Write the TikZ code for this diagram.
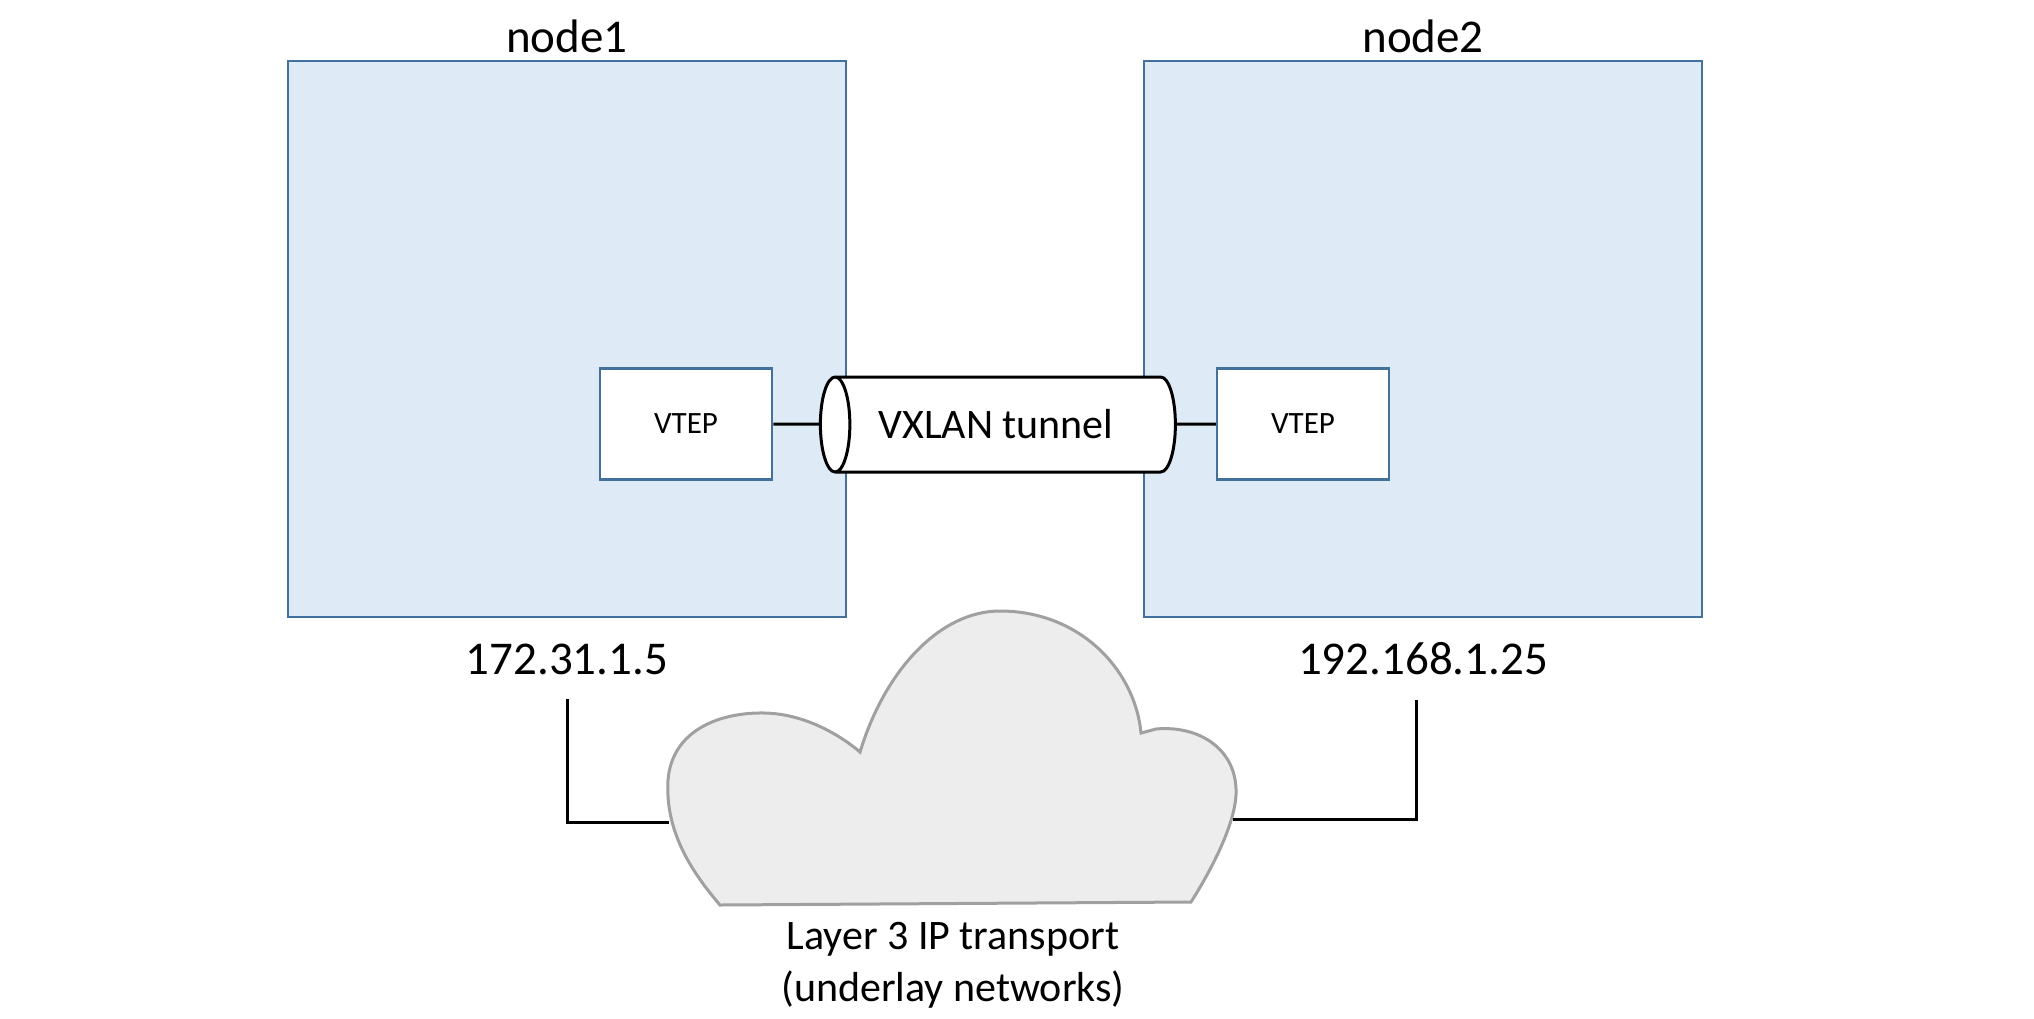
\documentclass[tikz,border=0pt]{standalone}
\usepackage{fontspec}
\setmainfont{Carlito}
\usetikzlibrary{shapes.geometric}
\definecolor{hostfill}{HTML}{DEEBF7}
\definecolor{hostline}{HTML}{41719C}
\definecolor{cloudfill}{HTML}{EDEDED}
\definecolor{cloudline}{HTML}{A0A0A0}
\begin{document}
\begin{tikzpicture}[x=0.5pt, y=-0.5pt,
    host/.style={draw=hostline, fill=hostfill, line width=1.25pt, minimum width=279pt, minimum height=278pt},
    vtepbox/.style={draw=hostline, fill=white, line width=1.25pt, minimum width=86pt, minimum height=55.5pt, font=\fontsize{15.5}{18}\selectfont},
    label/.style={font=\fontsize{23.5}{28}\selectfont, inner sep=0pt},
    link/.style={line width=1.5pt}]
    \useasboundingbox (0,0) rectangle (2034,1018);
    \foreach \i/\x/\vx/\ip in {1/567/686/172.31.1.5, 2/1423/1303/192.168.1.25} {
        \node[host] (box\i) at (\x,339) {};
        \node[label] (name\i) at (\x,36) {node\i};
        \node[vtepbox] (vtep\i) at (\vx,424) {VTEP};
        \node[label] (ip\i) at (\x,659) {\ip};
    }
    \node[cylinder, shape border rotate=180, aspect=1, draw, fill=white, line width=1.5pt,
        minimum width=47.5pt, minimum height=177.5pt, inner sep=0pt,
        font=\fontsize{21}{25}\selectfont] (tunnel) at (1006,424.5) {\hspace*{-10pt}VXLAN tunnel};
    \draw[link] (vtep1) -- (tunnel);
    \draw[link] (tunnel) -- (vtep2);
    % underlay cloud
    \draw[draw=cloudline, fill=cloudfill, line width=1.5pt]
        (720,905) .. controls (690,870) and (665,830) .. (668,780)
        .. controls (672,730) and (720,712) .. (765,713)
        .. controls (805,714) and (840,735) .. (860,752)
        .. controls (885,670) and (940,611) .. (1000,611)
        .. controls (1080,611) and (1135,670) .. (1141,733)
        -- (1156,729)
        .. controls (1200,725) and (1238,750) .. (1236,795)
        .. controls (1234,830) and (1205,880) .. (1191,902) -- cycle;
    \coordinate (cloudW) at (669,822);
    \coordinate (cloudE) at (1233,819);
    \node[font=\fontsize{21}{26}\selectfont, align=center] (under) at (953,965)
        {Layer 3 IP transport\\(underlay networks)};
    \draw[link] ([yshift=-12pt]ip1.south) |- (cloudW);
    \draw[link] ([xshift=-3.5pt,yshift=-12pt]ip2.south) |- (cloudE);
\end{tikzpicture}
\end{document}
